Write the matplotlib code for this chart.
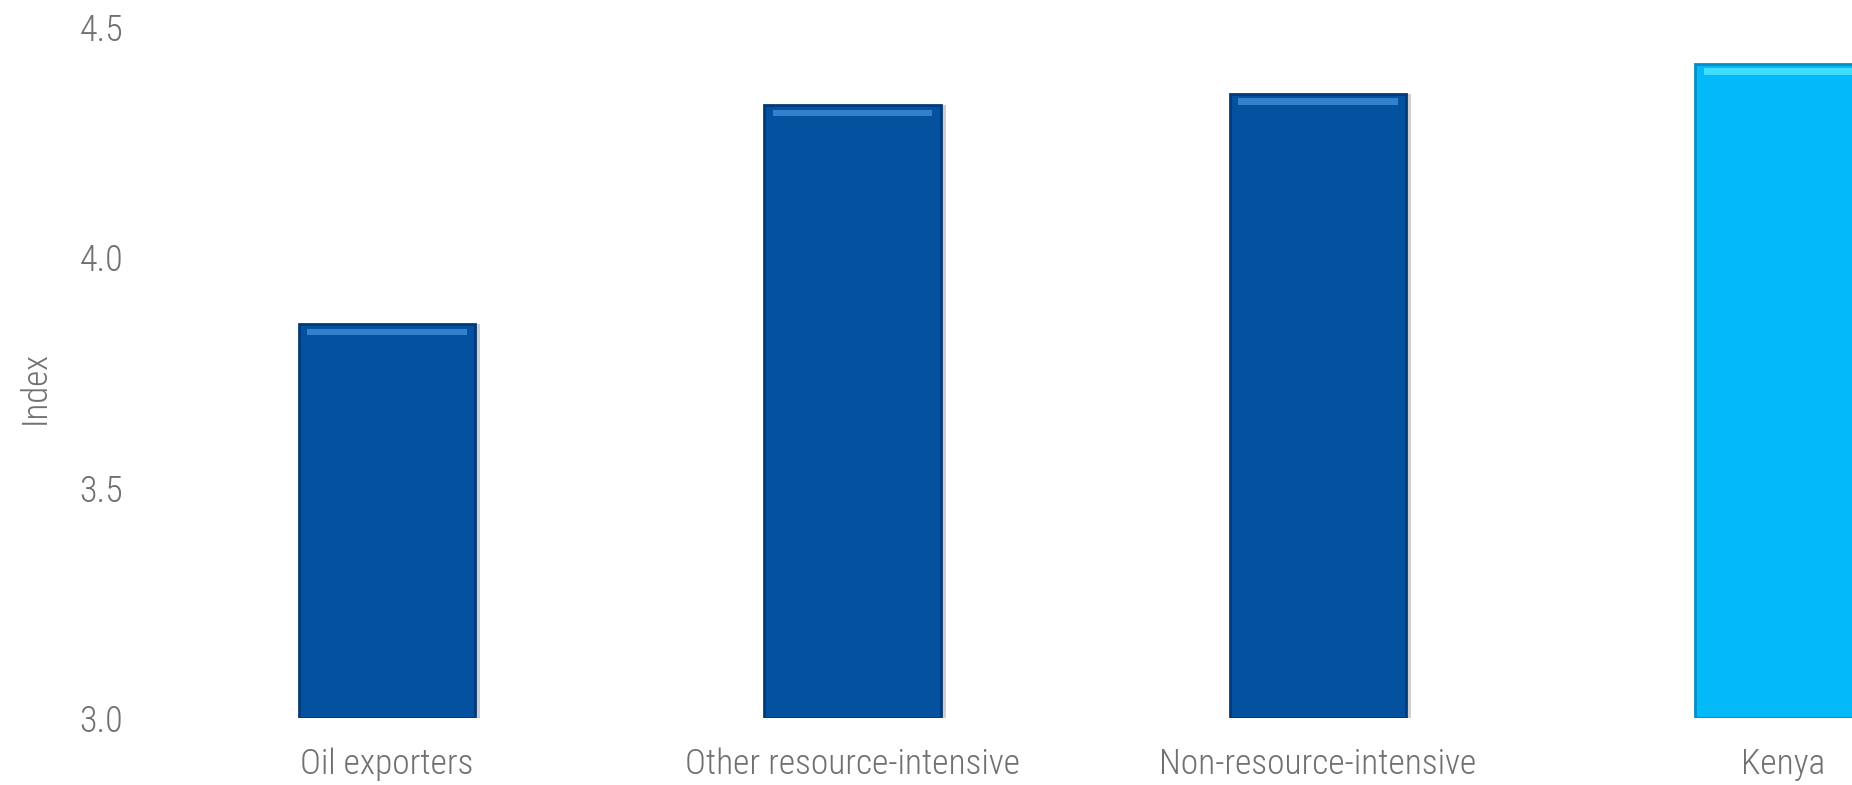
import matplotlib
matplotlib.use("Agg")
import matplotlib.pyplot as plt
from matplotlib import font_manager

categories = ["Oil exporters", "Other resource-intensive", "Non-resource-intensive", "Kenya"]
values = [3.855, 4.33, 4.355, 4.42]
bar_colors = ["#0451A0", "#0451A0", "#0451A0", "#03B9F7"]
edge_colors = ["#033A78", "#033A78", "#033A78", "#0290C4"]
hi_colors = ["#3580CC", "#3580CC", "#3580CC", "#40DDFF"]
yticks = [3.0, 3.5, 4.0, 4.5]
ytick_labels = ["3.0", "3.5", "4.0", "4.5"]
ylabel = "Index"

names = {f.name for f in font_manager.fontManager.ttflist}
fam = [f for f in ["Liberation Sans Narrow", "Roboto Condensed", "Liberation Sans"] if f in names] + ["DejaVu Sans"]
plt.rcParams["font.family"] = fam
TXT = "#707070"

W, H = 1852, 785
fig = plt.figure(figsize=(W / 100, H / 100), dpi=100)
left_px, right_px = 130, 1852
bottom_px, top_px = 718, 27
ax = fig.add_axes([left_px / W, (H - bottom_px) / H, (right_px - left_px) / W, (bottom_px - top_px) / H])

x = list(range(len(categories)))
width = 0.38
# shadow
ax.bar([i + 0.01 for i in x], [v - 3.0 for v in values], width, bottom=3.0, color="#cfcfcf", zorder=1)
ax.bar(x, [v - 3.0 for v in values], width, bottom=3.0, color=bar_colors,
       edgecolor=edge_colors, linewidth=2.0, zorder=2)
# top highlight bevel
ax.bar(x, [0.014] * 4, width * 0.9, bottom=[v - 0.024 for v in values], color=hi_colors, zorder=3, linewidth=0)

ax.set_xlim(-(387 - left_px) / 465.5, (1852 - 387) / 465.5)
ax.set_ylim(3.0, 4.5)
ax.set_yticks(yticks)
ax.set_yticklabels(ytick_labels, fontsize=26, fontweight="light")
ax.set_xticks(x)
ax.set_xticklabels(categories, fontsize=25.5, fontweight="light")
for s in ax.spines.values():
    s.set_visible(False)
ax.tick_params(axis="both", length=0, colors=TXT)
ax.tick_params(axis="x", pad=21)
ax.tick_params(axis="y", pad=5)
ax.set_ylabel(ylabel, color=TXT, fontsize=25, fontweight="light")
ax.yaxis.set_label_coords((52 - left_px) / (right_px - left_px), (bottom_px - 387) / (bottom_px - top_px))

fig.savefig("out.png", dpi=100)
